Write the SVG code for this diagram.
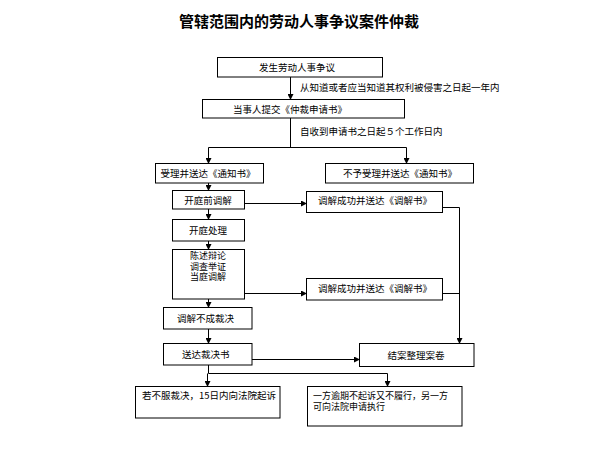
<svg xmlns="http://www.w3.org/2000/svg" width="599" height="451" viewBox="0 0 599 451">
<defs>
<marker id="ah" markerWidth="6" markerHeight="6" refX="5" refY="3" orient="auto" markerUnits="userSpaceOnUse">
<path d="M0,0 L6,3 L0,6 z" fill="#000"/>
</marker>
<style>
.box{fill:#fff;stroke:#000;stroke-width:1}
.t{font-family:"Noto Sans CJK SC","Liberation Sans",sans-serif;font-size:9.5px;fill:#000}
.m{font-family:"Liberation Sans","Noto Sans CJK SC",sans-serif;font-size:9px}
.c{text-anchor:middle}
.ln{fill:none;stroke:#000;stroke-width:1}
.ar{fill:none;stroke:#000;stroke-width:1;marker-end:url(#ah)}
</style>
</defs>
<rect width="599" height="451" fill="#fff"/>
<text x="299" y="27" class="c" style="font-family:'Noto Sans CJK SC',sans-serif;font-size:15px;font-weight:bold">管辖范围内的劳动人事争议案件仲裁</text>

<g id="connectors">
<path class="ar" d="M290.5,77 V99"/>
<path class="ln" d="M290.5,118 V147.5"/>
<path class="ln" d="M208.5,147.5 H406.5"/>
<path class="ar" d="M208.5,147.5 V163"/>
<path class="ar" d="M406.5,147.5 V163"/>
<path class="ar" d="M208.5,183 V190"/>
<path class="ar" d="M244,203.5 H306"/>
<path class="ar" d="M208.5,209 V219"/>
<path class="ar" d="M208.5,241 V249"/>
<path class="ar" d="M244,293.5 H306"/>
<path class="ln" d="M442,207.5 H459.5"/>
<path class="ln" d="M442,293.5 H459.5"/>
<path class="ar" d="M459.5,207.5 V343"/>
<path class="ar" d="M208.5,299 V307"/>
<path class="ar" d="M208.5,329 V343"/>
<path class="ar" d="M252,359.5 H359"/>
<path class="ln" d="M208.5,365 V373.5 H387.5"/>
<path class="ar" d="M207.5,373.5 V386"/>
<path class="ar" d="M387.5,373.5 V386"/>
<text x="300" y="91" class="t">从知道或者应当知道其权利被侵害之日起一年内</text>
<text x="300" y="135" class="t">自收到申请书之日起５个工作日内</text>
</g>

<g id="n1"><rect class="box" x="217.5" y="57.5" width="165" height="19.5"/><text x="297" y="71" class="t c">发生劳动人事争议</text></g>
<g id="n2"><rect class="box" x="202.5" y="99.5" width="202" height="18.5"/><text x="290" y="112.5" class="t c">当事人提交《仲裁申请书》</text></g>
<g id="n3"><rect class="box" x="155.5" y="163.5" width="108" height="19.5"/><text x="208" y="177" class="t c">受理并送达《通知书》</text></g>
<g id="n4"><rect class="box" x="325.5" y="163.5" width="148" height="19.5"/><text x="400" y="177" class="t c">不予受理并送达《通知书》</text></g>
<g id="n5"><rect class="box" x="172.5" y="190.5" width="72" height="18.5"/><text x="208" y="203.5" class="t c">开庭前调解</text></g>
<g id="n6"><rect class="box" x="306.5" y="191.5" width="136" height="21"/><text x="318" y="203.5" class="t">调解成功并送达《调解书》</text></g>
<g id="n7"><rect class="box" x="172.5" y="219.5" width="72" height="21.5"/><text x="208" y="233.5" class="t c">开庭处理</text></g>
<g id="n8"><rect class="box" x="172.5" y="249.5" width="72" height="49.5"/><text class="t m c"><tspan x="208" y="259">陈述辩论</tspan><tspan x="208" y="269.5">调查举证</tspan><tspan x="208" y="280">当庭调解</tspan></text></g>
<g id="n9"><rect class="box" x="306.5" y="278.5" width="136" height="21.5"/><text x="318" y="292" class="t">调解成功并送达《调解书》</text></g>
<g id="n10"><rect class="box" x="163.5" y="307.5" width="88.5" height="21.5"/><text x="177" y="321.5" class="t">调解不成裁决</text></g>
<g id="n11"><rect class="box" x="163.5" y="343.5" width="88.5" height="21.5"/><text x="182" y="357.5" class="t">送达裁决书</text></g>
<g id="n12"><rect class="box" x="359.5" y="343.5" width="114.5" height="23"/><text x="416" y="358.5" class="t c">结案整理案卷</text></g>
<g id="n13"><rect class="box" x="135.5" y="386.5" width="144.5" height="31.5"/><text x="142" y="399" class="t">若不服裁决，15日内向法院起诉</text></g>
<g id="n14"><rect class="box" x="307.5" y="386.5" width="154.5" height="39.5"/><text class="t m"><tspan x="313" y="399">一方逾期不起诉又不履行，另一方</tspan><tspan x="313" y="410">可向法院申请执行</tspan></text></g>
</svg>
